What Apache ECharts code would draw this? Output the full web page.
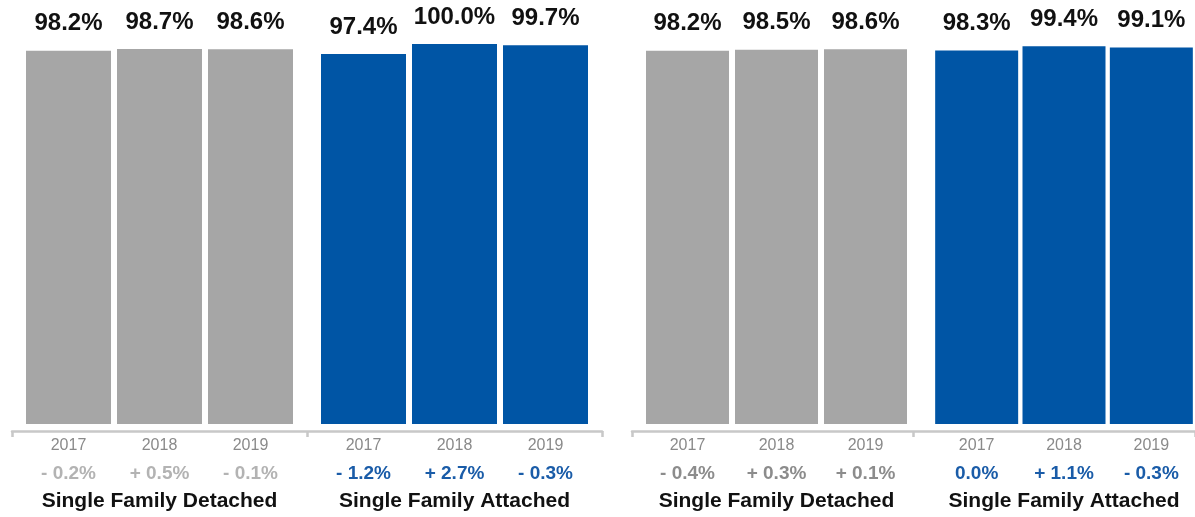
<!DOCTYPE html>
<html>
<head>
<meta charset="utf-8">
<script src="https://cdn.jsdelivr.net/npm/echarts@6/dist/echarts.min.js"></script>
<style>
html,body{margin:0;padding:0;background:#fff;}
#chart{width:1195px;height:517px;}
</style>
</head>
<body>
<div id="chart"></div>
<script>
// ---- data ----
const years = ['2017', '2018', '2019'];
const groupNames = ['Single Family Detached', 'Single Family Attached', 'Single Family Detached', 'Single Family Attached'];
const leftDetached = [98.2, 98.7, 98.6];
const leftAttached = [97.4, 100.0, 99.7];
const rightDetached = [98.2, 98.5, 98.6];
const rightAttached = [98.3, 99.4, 99.1];
const leftDetachedChg = ['- 0.2%', '+ 0.5%', '- 0.1%'];
const leftAttachedChg = ['- 1.2%', '+ 2.7%', '- 0.3%'];
const rightDetachedChg = ['- 0.4%', '+ 0.3%', '+ 0.1%'];
const rightAttachedChg = ['0.0%', '+ 1.1%', '- 0.3%'];

// ---- styling ----
const FONT = "'Liberation Sans', Arial, Helvetica, sans-serif";
const GRAY = '#a6a6a6';
const BLUE = '#0055a5';
const groups = [
  {vals: leftDetached, chg: leftDetachedChg, name: groupNames[0], color: GRAY, chgColor: '#b3b3b3', left: 23, width: 273, barW: 85},
  {vals: leftAttached, chg: leftAttachedChg, name: groupNames[1], color: BLUE, chgColor: '#1a5ca8', left: 318, width: 273, barW: 85},
  {vals: rightDetached, chg: rightDetachedChg, name: groupNames[2], color: GRAY, chgColor: '#8c8c8c', left: 643, width: 267, barW: 83},
  {vals: rightAttached, chg: rightAttachedChg, name: groupNames[3], color: BLUE, chgColor: '#1a5ca8', left: 933, width: 267, barW: 83}
];

const grid = [], xAxis = [], yAxis = [], series = [];
groups.forEach((g, i) => {
  grid.push({left: g.left, width: g.width, top: 44, bottom: 90, containLabel: false});
  xAxis.push({
    type: 'category', gridIndex: i, data: years,
    axisLine: {show: false}, axisTick: {show: false},
    axisLabel: {
      margin: 8,
      interval: 0,
      formatter: (v, idx) => '{y|' + v + '}\n{c|' + g.chg[idx] + '}',
      rich: {
        y: {fontFamily: FONT, fontSize: 16, color: '#8a8a8a', lineHeight: 28},
        c: {fontFamily: FONT, fontSize: 19, fontWeight: 'bold', color: g.chgColor, lineHeight: 28}
      }
    },
    name: g.name, nameLocation: 'middle', nameGap: 67,
    nameTextStyle: {fontFamily: FONT, fontSize: 21, fontWeight: 'bold', color: '#111'}
  });
  yAxis.push({type: 'value', gridIndex: i, min: 0, max: 100, show: false});
  series.push({
    type: 'bar', xAxisIndex: i, yAxisIndex: i, data: g.vals, barWidth: g.barW,
    itemStyle: {color: g.color},
    label: {
      show: true, position: 'top', distance: 15,
      formatter: p => p.value.toFixed(1) + '%',
      fontFamily: FONT, fontSize: 24, fontWeight: 'bold', color: '#111'
    },
    silent: true
  });
});

// axis-line grids (panel baselines with group separators)
const axisPanels = [{left: 12, width: 590}, {left: 632, width: 578}];
axisPanels.forEach((p, k) => {
  const gi = grid.length;
  grid.push({left: p.left, width: p.width, bottom: 86, height: 1});
  xAxis.push({
    type: 'value', gridIndex: gi, min: 0, max: 2, interval: 1,
    axisLine: {show: true, lineStyle: {color: '#c8c8c8', width: 2.5}},
    axisTick: {show: true, length: 6, lineStyle: {color: '#c8c8c8', width: 2.5}},
    axisLabel: {show: false}, splitLine: {show: false}
  });
  yAxis.push({type: 'value', gridIndex: gi, show: false});
});

const chart = echarts.init(document.getElementById('chart'), null, {renderer: 'canvas'});
chart.setOption({animation: false, backgroundColor: '#fff', grid, xAxis, yAxis, series});
</script>
</body>
</html>
